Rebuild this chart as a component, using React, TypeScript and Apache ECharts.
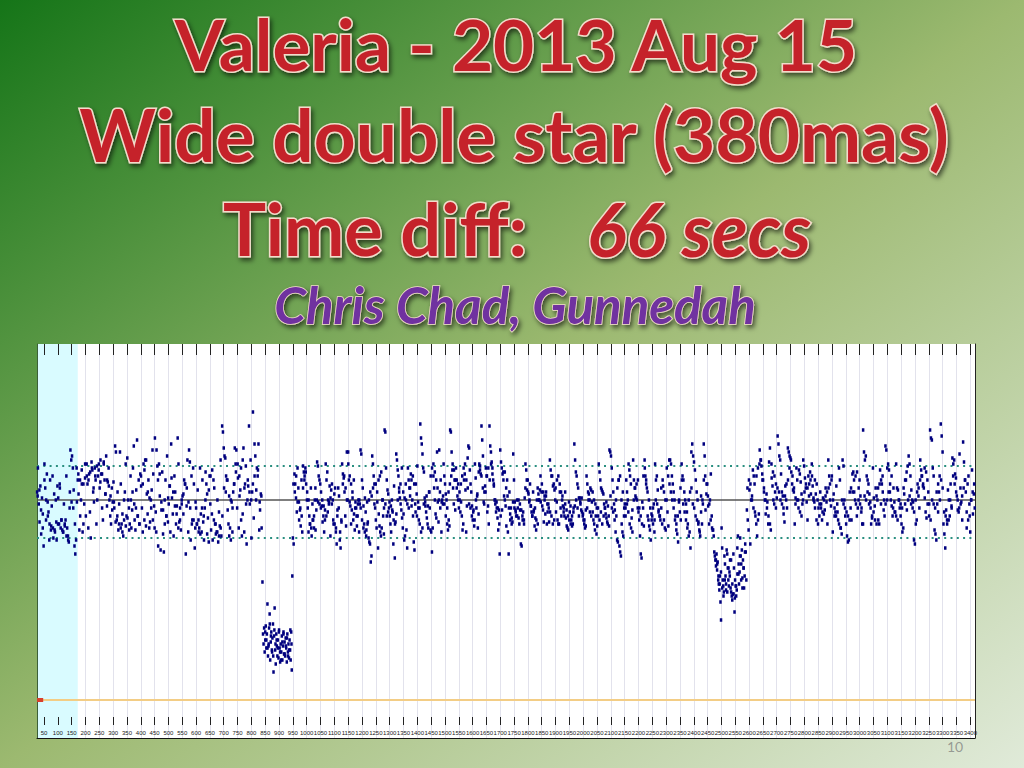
import React, { useEffect, useRef } from "react";
import * as echarts from "echarts";

const titleLines = ["Valeria - 2013 Aug 15", "Wide double star (380mas)", "Time diff:", "66 secs", "Chris Chad, Gunnedah"];
const tickValues = Array.from({ length: 68 }, (_, i) => (i + 1) * 50);
const upperLevel = 117;
const meanLevel = 100;
const lowerLevel = 81;
const baseLevel = 0;
const frameMin = 24.6;
const frameMax = 3417;
const comparisonEnd = 172;
const redEnd = 47;

const levelsA = [104,116,98,89,107,83,101,93,77,
118,106,90,113,99,94,80,110,85,97,112,81,103,84,100,80,107,
101,88,106,86,90,85,84,98,88,90,112,86,82,79,96,125,120,
122,116,105,77,73,80,99,110,103,85,92,100,108,84,88,98,111,
92,118,108,86,113,94,81,119,115,104,99,116,110,88,100,112,118,
106,120,113,96,90,119,110,103,122,97,109,116,100,92,88,106,99,
109,96,127,124,90,104,85,98,124,108,88,93,82,100,104,118,92,
121,100,96,88,112,86,95,116,127,90,85,105,130,92,110,88,113,
107,96,84,118,90,120,87,103,93,110,86,89,100,105,125,113,97,
131,94,125,117,77,118,102,75,95,114,83,74,100,110,92,122,89,
98,107,84,128,101,93,82,112,104,88,97,131,118,89,96,85,100,
102,93,110,108,73,97,120,84,125,119,80,112,90,116,108,76,99];
const levelsB = [96,88,105,90,86,116,93,84,110,89,80,96,114,108,83,91,79,
112,98,85,93,80,110,106,88,83,84,100,79,94,87,120,82,
137,134,126,122,121,112,110,95,88,82,86,80,99,84,104,108,126,
118,125,96,111,86,102,105,90,82,93,126,84,108,117,78,100,107,
137,98,120,81,104,144,91,128,122,100,116,112,128,85,95,103,86];
const levelsC = [59,33,28,36,24,30,37,26,33,48,22,27,36,43,20,29,34,25,31,38,14,32,46,25,18,33,27,22,30,21,35,26,19,28,24,32,20,27,34,23,29,22,31,26,19,33,24,28,21,30,25,20,34,15,62];
const levelsD = [81,78,113,108,101,94,99,106,90,95,87,110,84,117,114,112,116,
108,100,96,84,92,88,106,82,98,90,86,100,85,95,119,117,
112,110,108,104,97,89,92,84,90,118,110,114,100,98,107,82,
105,108,100,88,103,106,84,78,95,106,102,80,76,90,118,113,111,104,92,87,124,100];
const levelsE = [124,110,99,97,88,95,101,90,93,85,99,96,87,92,100,84,98,
125,123,110,106,97,88,101,94,85,99,89,81,79,78,69,72,
122,118,112,108,96,90,86,99,76,93,87,84,82,86,100,92,83,
135,134,116,110,105,103,96,92,88,84,100,94,78,107,71,89,
123,120,115,112,104,101,98,95,91,86,93,80,82,108,85,76,
116,110,106,102,113,97,100,92,79,75,98,108,103,117,99,90,96,
138,131,128,123,116,114,101,97,94,91,88,86,104,96,85,84,
74,86,112,106,100,93,91,124,99,89,125,104,110,84,100,98,
118,112,108,103,100,96,85,90,87,135,134,124,115,106,98,110,95,
116,110,102,108,96,100,94,99,92,85,88,110,113,105,84,97,
121,127,126,115,108,104,97,90,95,87,118,111,96,102,86,93,
118,115,113,137,130,122,99,104,107,116,112,94,97,88,
137,127,124,119,116,110,107,100,98,94,96,91,85,95,73];
const levelsF = [125,119,116,113,114,102,100,97,87,110,84,73,104,93,96,91,89,
123,110,99,95,92,100,96,91,88,95,78,77,92,94,90,101,
118,115,105,110,103,99,108,97,94,92,104,95,87,91,85,100,106,
103,100,105,99,104,97,95,89,102,93,104,88,94,98,89,
120,115,112,112,107,108,105,100,94,99,90,88,88,104,96,92,
100,97,94,92,104,91,87,86,85,99,94,97,90,92,88,96,
128,120,114,112,108,106,101,101,98,95,94,92,90,88,86,95,
112,108,104,103,100,106,105,99,94,90,88,85,92,83,87,96,
118,114,110,106,105,104,103,98,96,93,91,89,97,92,
125,124,122,116,110,104,98,95,84,92,80,79,110,77,74,72,
88,84,82,92,98,96,110,104,100,118,115,112,108,91,95,
120,110,106,102,101,100,96,94,90,82,73,71,99,96,87,
120,112,108,106,92,90,87,85,80,93,92,96,98,90];
const levelsG = [118,110,112,105,95,92,90,96,88,107,90,86,85,100,94,87,
120,120,118,112,108,104,100,92,85,83,79,99,94,90,
118,112,110,104,100,98,94,88,82,84,76,
124,128,122,119,115,110,104,100,89,85,82,102,88,98,128,122,
95,103,108,97,88,100,113,92,85];
const levelsH = [85,82,74,72,70,67,73,65,69,60,58,55,62,49,40,86,76,60,57,54,72,68,62,58,75,73,66,60,57,64,70,56,54,52,50,53,73,66,44,60,57,52,55,76,82,63,58,64,81,72,68,75,61,70,66,56,62,78,74,60];
const levelsI = [95,90,85,105,78,100,102,115,112,108,92,88,82,90,93,
125,120,117,113,110,106,100,93,103,99,88,
119,126,85,111,107,100,98,104,96,101,
132,128,122,120,113,104,102,93,89,107,100,96,
126,124,122,121,114,108,105,104,88,101,116,110,100,
115,113,109,103,98,120,117,111,106,99,90,
112,108,114,103,118,107,101,99];
const levelsJ = [110,103,108,100,96,92,104,98,90,101,93,95,106,99,88,
120,112,100,97,112,84,103,92,94,107,98,90,
116,110,86,83,120,117,100,92,88,82,79,80,104,96,90,
113,114,104,100,98,92,96,106,110,102,94,88,
135,124,120,122,112,110,108,103,99,88,91,116,101,97,
106,102,100,90,88,115,98,108,104,95,92,
127,125,116,118,115,104,100,97,92,106,99,94,
118,106,105,100,96,92,88,84,86,103,98,110,95,
117,122,118,112,105,100,99,80,78,88,90,108,102,96,
120,115,112,107,106,101,94,91,110,104,98,
135,131,130,116,112,85,83,80,98,94,104,100,
138,132,124,88,83,76,95,90,105,100,92,108,97,
121,118,120,113,111,102,95,94,123,106,99,90,
129,119,110,104,86,108,112,98,84,100,115,93,103,96];
const denserK = [102,105,95,86,110,100,92,88,87,86,85,89,88,108,90,84,87,82,80,104,99,96,88,
116,113,110,115,108,118,112,110,114,116,106,112,117,115,109,113,118,103,110,107,102,95,99,
89,92,88,86,84,90,87,91,85,100,104,98,96,92,88,112,108,115,120,104,101,96,90,86,84,
110,113,99,95,88,92,101,107,111,104,97,93,86,90,98,103,108,106,99,96,88,
90,86,88,84,83,96,92,100,103,105,112,115,90,88,84,82,86,92,
106,104,110,102,100,96,108,114,118,112,116,120,106,98,110,104,100,108,112,105,115,99,102];
const denserL = [108,104,112,116,99,96,92,106,110,114,104,100,88,86,90,92,106,100,
99,98,96,100,97,95,92,94,99,101,98,90,88,86,92,96,84,89,108,112,106,100,
118,112,108,104,110,96,92,98,100,96,90,86,84,82,88,100,104,102,106,98,
108,104,110,112,114,100,96,98,92,94,99,97,95,90,88,93,100,106,108,116,
104,101,100,98,96,106,110,112,108,94,92,96,88,84,86,98,99,102,97,104,
112,116,118,114,110,106,100,96,99,102,98,92,88,104,108,112,118,115,110,106,
100,104,108,112,116,118,110,106,98,96,92,94,90,100,103,114,117,112,106,98,
104,112,116,110,118,113,108,100,99,96,88,92,95,110,114,106,102,96,90,88,
99,96,94,92,100,98,95,90,88,106,110,104,100,97,92,94,96,90,88,100,
112,108,104,100,102,98,96,94,92,88,90,106,110,112,108,104,102,96,
98,95,92,90,88,87,94,97,100,96,92,99,101,93,90,87,96,100,94,92,
104,100,98,96,92,90,94,88,92,96,99,88,87,102,96,94,90,100,
106,110,112,100,104,96,92,98,94,88,86,84,100,106,108,110,96,92,88,
112,116,110,104,100,96,90,88,84,100,98,94,92,106,110,104,100,
116,112,108,104,100,96,90,88,92,100,106,110,98,94,90,86,
100,104,106,98,96,92,90,88,84,94,100,110,112,108,102,98,90,86];
const denserM = [106,110,108,100,96,94,112,116,118,120,110,104,100,96,92,88,
118,114,112,108,106,104,100,98,96,102,108,110,116,120,112,106,
98,100,96,94,92,100,104,108,106,102,110,112,100,96,90,88,
98,96,94,100,102,104,106,108,110,100,96,92,94,88,86,
100,98,96,94,92,90,106,104,110,112,114,100,98,96,88,
102,100,104,98,96,92,94,90,88,106,108,110,112,100,98,
100,104,108,112,96,94,92,90,100,98,96,106,110,114,100,
102,98,96,94,100,104,106,110,112,108,116,114,98,92,90,
100,98,96,104,108,112,110,106,94,92,88,90,100,96,
112,108,104,100,96,98,102,106,110,94,90,92,100,104,108];
const denserC = [34,30,26,28,38,32,24,22,35,28,30,26,34,24,20,29,33,23,27,31,22,25,35,28];
const denserH = [70,68,62,58,64,56,52,60,55,54,66,62,70,58,53,51,57,63,68,72,60,56,66,74];

const spans: [number, number, number[]][] = [
  [25, 598, levelsA], [600, 837, levelsB], [840, 948, levelsC], [950, 1148, levelsD],
  [1150, 1698, levelsE], [1700, 2258, levelsF], [2260, 2468, levelsG], [2470, 2590, levelsH],
  [2592, 2836, levelsI], [2838, 3416, levelsJ],
  [27, 836, denserK], [952, 2466, denserL], [2594, 3414, denserM], [850, 945, denserC], [2480, 2585, denserH],
];
const points = spans.flatMap(([a, b, l]) => l.map((v, i) => [a + (i * (b - a)) / (l.length - 1), v]));

const flatLine = (level: number, color: string, width: number, type: any, end = frameMax) => ({
  type: "line", silent: true, showSymbol: false, symbol: "none", z: 1,
  data: [[frameMin, level], [end, level]],
  lineStyle: { color, width, type },
});

const titleText = (text: string, x: number, y: number, size: number, fill: string, italic = false) => ({
  type: "text", z: 5,
  style: {
    text, x, y, align: "center", verticalAlign: "middle",
    font: `${italic ? "italic " : ""}bold ${size}px Lato, "Open Sans", sans-serif`,
    fill, stroke: "#f2dccb", lineWidth: fill === "#c5222c" ? 3 : 1.5,
    textShadowColor: "rgba(0,0,0,0.6)", textShadowBlur: 5, textShadowOffsetX: 2, textShadowOffsetY: 3,
  },
});

export default function App() {
  const ref = useRef<HTMLDivElement>(null);
  useEffect(() => {
    document.body.style.margin = "0";
    const chart = echarts.init(ref.current!, null, { renderer: "svg" });
    const xBase = { type: "value", min: frameMin, max: frameMax };
    const ticks = (length: number) => ({ show: true, inside: true, length, customValues: tickValues, lineStyle: { color: "#222", width: 1 } });
    chart.setOption({
      animation: false,
      graphic: [
        {
          type: "rect", z: -10, silent: true,
          shape: { x: 0, y: 0, width: 1024, height: 768 },
          style: {
            fill: new echarts.graphic.LinearGradient(0, 0, 1, 1, [
              { offset: 0, color: "#157518" },
              { offset: 0.5, color: "#9cb970" },
              { offset: 1, color: "#e0ead9" },
            ]),
          },
        },
        titleText(titleLines[0], 516, 43, 71, "#c5222c"),
        titleText(titleLines[1], 514, 134, 73, "#c5222c"),
        titleText(titleLines[2], 375, 228, 72, "#c5222c"),
        titleText(titleLines[3], 699, 228, 74, "#c5222c", true),
        titleText(titleLines[4], 515, 304, 51, "#7030a0", true),
        { type: "text", z: 6, style: { text: "10", x: 955, y: 746, align: "center", verticalAlign: "middle", font: "14px Lato, sans-serif", fill: "rgba(120,120,120,0.7)" } },
      ],
      grid: { left: 37, top: 344, width: 938, height: 394, show: true, backgroundColor: "#ffffff", borderWidth: 0 },
      xAxis: [
        {
          ...xBase, position: "bottom",
          axisLine: { show: true, onZero: false, lineStyle: { color: "#111", width: 1 } },
          axisTick: { show: false, customValues: tickValues },
          axisLabel: {
            show: true, inside: true, margin: 2, customValues: tickValues, hideOverlap: false,
            showMinLabel: true, showMaxLabel: true,
            fontFamily: '"Liberation Sans Narrow", "Liberation Sans", sans-serif', fontSize: 6, color: "#1a1a1a",
            formatter: (v: number) => String(v),
          },
          splitLine: { show: true, lineStyle: { color: "#e2e2ec", width: 1 } },
        },
        { ...xBase, position: "top", axisLine: { show: false, onZero: false }, axisTick: ticks(11), axisLabel: { show: false }, splitLine: { show: false } },
        { ...xBase, position: "bottom", offset: -13, axisLine: { show: false, onZero: false }, axisTick: ticks(8), axisLabel: { show: false }, splitLine: { show: false } },
      ],
      yAxis: [
        { type: "value", min: -19, max: 178, position: "right", axisLine: { show: true, onZero: false, lineStyle: { color: "#222", width: 1 } }, axisTick: { show: false }, axisLabel: { show: false }, splitLine: { show: false } },
        { type: "value", min: -19, max: 178, position: "left", axisLine: { show: true, onZero: false, lineStyle: { color: "#3c5f38", width: 1 } }, axisTick: { show: false }, axisLabel: { show: false }, splitLine: { show: false } },
      ],
      series: [
        {
          type: "scatter", silent: true, z: 3, symbol: "rect", symbolSize: [2.5, 3.5], data: points,
          itemStyle: { color: "#00007f", opacity: 1 },
          markArea: { silent: true, z: 0, itemStyle: { color: "#d9fbff", opacity: 1 }, data: [[{ xAxis: frameMin }, { xAxis: comparisonEnd }]] },
        },
        flatLine(meanLevel, "#555555", 1.5, "solid"),
        flatLine(upperLevel, "#2a8f80", 2, [2, 4.3]),
        flatLine(lowerLevel, "#2a8f80", 2, [2, 4.3]),
        flatLine(baseLevel, "#f3cd85", 2, "solid"),
        flatLine(baseLevel, "#d8402c", 4, "solid", redEnd),
      ],
    });
    return () => chart.dispose();
  }, []);
  return <div ref={ref} style={{ position: "absolute", left: 0, top: 0, width: 1024, height: 768 }} />;
}
